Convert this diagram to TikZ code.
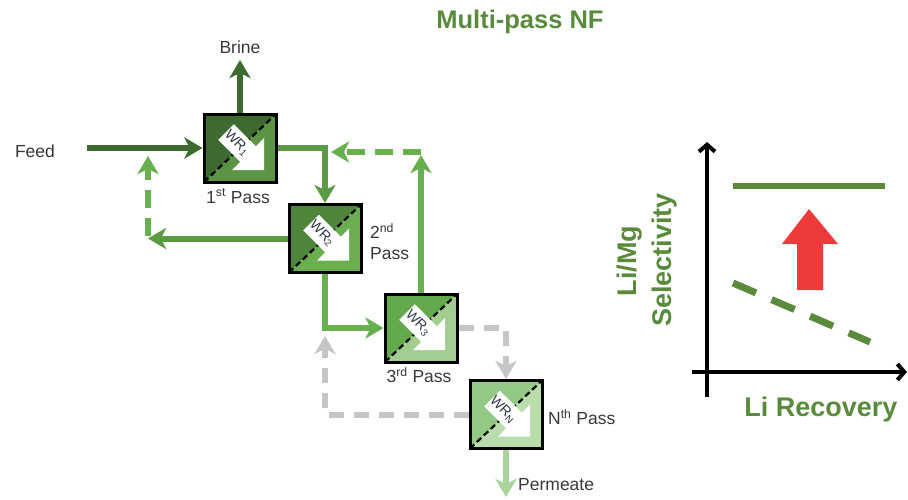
\documentclass[tikz,border=0pt]{standalone}
\usepackage{fontspec}
\setmainfont{Liberation Sans}
\usetikzlibrary{arrows.meta}

\definecolor{gA}{HTML}{3D6A2F}
\definecolor{gB}{HTML}{5B9444}
\definecolor{gC}{HTML}{4E853B}
\definecolor{gD}{HTML}{6BAE50}
\definecolor{gE}{HTML}{63AA4C}
\definecolor{gF}{HTML}{A2CD8F}
\definecolor{gG}{HTML}{93C985}
\definecolor{gH}{HTML}{B9DDAB}
\definecolor{flowmid}{HTML}{5C9A45}
\definecolor{flowlite}{HTML}{68B04E}
\definecolor{greyflow}{HTML}{C6C6C6}
\definecolor{permflow}{HTML}{A9D49B}
\definecolor{titlegreen}{HTML}{5A8A3C}
\definecolor{labelgrey}{HTML}{383838}
\definecolor{wrtext}{HTML}{2E3A48}
\definecolor{upred}{HTML}{EE3A3A}

\tikzset{
  flow/.style={line width=6pt, -{Stealth[length=18pt,width=21pt,inset=5pt]}},
  dashflow/.style={flow, dash pattern=on 18pt off 10pt},
  lbl/.style={font=\fontsize{17.5}{21}\selectfont, text=labelgrey, inner sep=0pt},
  passframe/.style={draw=black, line width=3pt, minimum width=72pt, minimum height=68pt, inner sep=0pt},
  diag/.style={black, line width=2.2pt, dash pattern=on 6pt off 3.5pt},
  wrlabel/.style={font=\fontsize{14}{14}\selectfont, text=wrtext, rotate=-45, inner sep=0pt},
  axis/.style={black, line width=4pt, -{Straight Barb[length=7pt,width=16pt]}},
  big/.style={font=\bfseries\fontsize{27}{30}\selectfont, text=titlegreen, inner sep=0pt}
}

% one separation pass: split fill, membrane line, white arrow, frame
\newcommand\drawpass[6]{%
  \begin{scope}[shift={(#2,#3)}]
    \fill[#4] (-36,-34) -- (36,-34) -- (-36,34) -- cycle;
    \fill[#5] (36,-34) -- (36,34) -- (-36,34) -- cycle;
    \draw[diag] (-36,34) -- (36,-34);
    \fill[white] (-21.8,-8.2) -- (-6.2,-23.8) -- (15.8,-1.8) -- (24,-10)
      -- (24,22) -- (-8,22) -- (0.2,13.8) -- cycle;
    \node[wrlabel] at (-3,-5) {WR\textsubscript{#6}};
  \end{scope}
  \node[passframe] (#1) at (#2,#3) {};
}

\begin{document}
\begin{tikzpicture}[x=1pt,y=-1pt]
\useasboundingbox (0,0) rectangle (908,499);

% title
\node[font=\bfseries\fontsize{25.5}{28}\selectfont, text=titlegreen] (title) at (520,22) {Multi-pass NF};

% passes
\drawpass{b1}{240}{148}{gA}{gB}{1}
\drawpass{b2}{325}{238.5}{gC}{gD}{2}
\drawpass{b3}{421}{328}{gE}{gF}{3}
\drawpass{b4}{506}{414.5}{gG}{gH}{N}

% labels
\node[lbl] (brine) at (240,47) {Brine};
\node[lbl] (feed) at (35,151) {Feed};
\node[lbl] (p1) at (238,196) {1\textsuperscript{st} Pass};
\node[lbl, anchor=west, align=left] (p2) at (370,242) {2\textsuperscript{nd}\\Pass};
\node[lbl] (p3) at (419,375) {3\textsuperscript{rd} Pass};
\node[lbl, anchor=west] (p4) at (548,417) {N\textsuperscript{th} Pass};
\node[lbl, anchor=west] (perm) at (518,485) {Permeate};

% free ends of the flow lines
\coordinate (feedin) at (87,148);
\coordinate (brineout) at (240,60);
\coordinate (ret1) at (148,238.5);
\coordinate (ret1top) at (148,156);
\coordinate (up3) at (421,155);
\coordinate (ret3end) at (331,152);
\coordinate (ret4corner) at (325,414.5);
\coordinate (ret4top) at (325,336);
\coordinate (permout) at (506,497);

% flows
\draw[flow, gA] (b1.north) -- (brineout);
\draw[flow, gA] (feedin) -- (b1.west);
\draw[flow, flowmid] (b1.east) -| (b2.north);
\draw[flow, flowmid] (b2.west) -- (ret1);
\draw[dashflow, flowlite] ([yshift=3pt]ret1) -- (ret1top);
\draw[flow, flowlite] (b2.south) |- (b3.west);
\draw[flow, flowlite] (b3.north) -- (up3);
\draw[dashflow, flowlite] (421,152) -- (ret3end);
\draw[dashflow, greyflow, dash pattern=on 15pt off 10pt] (b3.east) -| (b4.north);
\draw[dashflow, greyflow, dash pattern=on 15pt off 10pt] (b4.west) -- (ret4corner) -- (ret4top);
\draw[flow, permflow] (b4.south) -- (permout);

% selectivity / recovery chart
\coordinate (yfoot) at (707,397);
\coordinate (ytop) at (707,142);
\coordinate (xleft) at (692,372);
\coordinate (xright) at (907,372);
\draw[axis] (yfoot) -- (ytop);
\draw[axis] (xleft) -- (xright);
\draw[titlegreen, line width=6pt] (733,186) -- (885,186);
\draw[titlegreen, line width=7pt, dash pattern=on 25pt off 17pt] (733,283) -- (870,342);
\fill[upred] (797,290) -- (823,290) -- (823,244) -- (838,244) -- (809,209)
  -- (782,244) -- (797,244) -- cycle;
\node[big, rotate=90] (ylab1) at (630,261) {Li/Mg};
\node[big, rotate=90] (ylab2) at (665,260) {Selectivity};
\node[big] (xlab) at (821,410) {Li Recovery};
\end{tikzpicture}
\end{document}
